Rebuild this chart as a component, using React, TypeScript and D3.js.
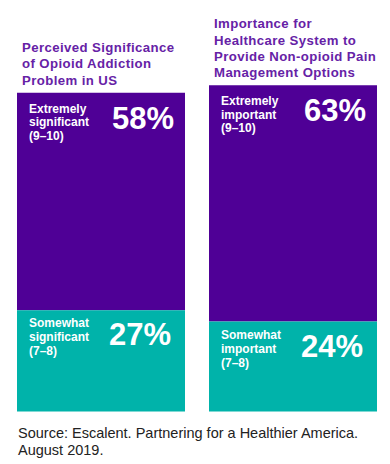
import React from 'react';
import * as d3 from 'd3';

const width = 390;
const height = 464;
const purple = '#4f0096';
const titlePurple = '#6622a6';
const teal = '#00b3aa';

const panels = ['significance', 'importance'];
const titles = [
  ['Perceived Significance', 'of Opioid Addiction', 'Problem in US'],
  ['Importance for', 'Healthcare System to', 'Provide Non-opioid Pain', 'Management Options']
];
const extremely = [58, 63];
const somewhat = [27, 24];
const extremelyLabels = [
  ['Extremely', 'significant', '(9–10)'],
  ['Extremely', 'important', '(9–10)']
];
const somewhatLabels = [
  ['Somewhat', 'significant', '(7–8)'],
  ['Somewhat', 'important', '(7–8)']
];
const source = ['Source: Escalent. Partnering for a Healthier America.', 'August 2019.'];

const font = 'Liberation Sans, Arial, sans-serif';

export default function App() {
  const x = d3.scaleBand().domain(panels).range([17, 377]).paddingInner(0.125);
  const y = d3.scaleLinear().domain([0, 100]).range([411.5, 36.5]);

  return (
    <svg width={width} height={height} style={{ position: 'absolute', left: 0, top: 0 }}>
      {panels.map((p, i) => {
        const x0 = x(p)!;
        const w = x.bandwidth();
        const tealTop = y(somewhat[i]);
        const purpleTop = y(somewhat[i] + extremely[i]);
        const title = titles[i];
        return (
          <g key={p}>
            <rect x={x0} y={purpleTop} width={w} height={tealTop - purpleTop} fill={purple} />
            <rect x={x0} y={tealTop} width={w} height={y(0) - tealTop} fill={teal} />
            {title.map((t, j) => (
              <text
                key={j}
                x={x0 + 5}
                y={purpleTop - 8 - (title.length - 1 - j) * 16.3}
                fill={titlePurple}
                fontFamily={font}
                fontWeight="bold"
                fontSize={13.2}
                letterSpacing={0.4}
              >
                {t}
              </text>
            ))}
            {extremelyLabels[i].map((t, j) => (
              <text key={j} x={x0 + 12} y={purpleTop + 20 + j * 13.5} fill="#fff"
                fontFamily={font} fontWeight="bold" fontSize={12}>
                {t}
              </text>
            ))}
            <text x={x0 + 157} y={purpleTop + 36} textAnchor="end" fill="#fff"
              fontFamily={font} fontWeight="bold" fontSize={31}>
              {extremely[i]}%
            </text>
            {somewhatLabels[i].map((t, j) => (
              <text key={j} x={x0 + 12} y={tealTop + 17 + j * 14} fill="#fff"
                fontFamily={font} fontWeight="bold" fontSize={12}>
                {t}
              </text>
            ))}
            <text x={x0 + 154} y={tealTop + 35} textAnchor="end" fill="#fff"
              fontFamily={font} fontWeight="bold" fontSize={31}>
              {somewhat[i]}%
            </text>
          </g>
        );
      })}
      {source.map((s, j) => (
        <text key={j} x={18} y={438 + j * 16.5} fill="#222" fontFamily={font} fontSize={14.5}>
          {s}
        </text>
      ))}
    </svg>
  );
}
